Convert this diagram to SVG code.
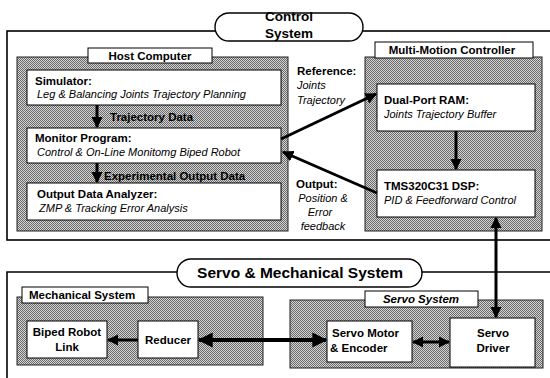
<svg xmlns="http://www.w3.org/2000/svg" width="550" height="378" viewBox="0 0 550 378">
  <defs>
    <!-- halftone fill used by the panels -->
    <pattern id="dots" width="2" height="2" patternUnits="userSpaceOnUse">
      <rect width="2" height="2" fill="#d4d4d4"/>
      <rect width="1" height="1" fill="#6a6a6a"/>
      <rect x="1" y="1" width="1" height="1" fill="#6a6a6a"/>
    </pattern>
    <marker id="ah" viewBox="0 0 10 10" refX="9" refY="5" markerWidth="3.8" markerHeight="3.8" orient="auto-start-reverse" markerUnits="strokeWidth">
      <path d="M0,0 L10,5 L0,10 z" fill="#000"/>
    </marker>
  </defs>
  <style>
    .frame { fill: none; stroke: #000; stroke-width: 1.6; }
    .pill { fill: #fff; stroke: #000; stroke-width: 1.4; }
    .panel { fill: url(#dots); stroke: #222; stroke-width: 1; }
    .box { fill: #fff; stroke: #000; stroke-width: 1; }
    .tab { fill: #fff; stroke: #000; stroke-width: 1; }
    text { font-family: "Liberation Sans", Arial, sans-serif; fill: #000; }
    .b { font-weight: bold; font-size: 11.5px; }
    .i { font-style: italic; font-size: 11px; }
    .bi { font-weight: bold; font-style: italic; font-size: 11.5px; }
    .title { font-weight: bold; font-size: 13.5px; }
    .big { font-weight: bold; font-size: 15.5px; }
    .c { text-anchor: middle; }
    .wire { fill: none; stroke: #000; stroke-width: 3; }
    .wire2 { fill: none; stroke: #000; stroke-width: 4; }
  </style>

  <!-- outer frames -->
  <g id="control-system">
    <rect class="frame" x="7" y="31" width="560" height="209"/>
    <rect class="pill" x="215" y="13" width="148" height="28" rx="14"/>
    <text class="title c" x="289" y="21">Control</text>
    <text class="title c" x="289" y="38">System</text>
  </g>
  <g id="servo-mechanical-system">
    <path class="frame" d="M7,380 V272 H560"/>
    <rect class="pill" x="177" y="259" width="245" height="28" rx="14"/>
    <text class="big c" x="300" y="278">Servo &amp; Mechanical System</text>
  </g>

  <!-- Host Computer -->
  <g id="host-computer">
    <rect class="panel" x="17" y="57" width="271" height="174"/>
    <rect class="tab" x="88" y="48" width="124" height="15"/>
    <text class="b c" x="150" y="60">Host Computer</text>
  </g>
  <g id="simulator">
    <rect class="box" x="27" y="70" width="254" height="35"/>
    <text class="b" x="35" y="85">Simulator:</text>
    <text class="i" x="37" y="98">Leg &amp; Balancing Joints Trajectory Planning</text>
  </g>
  <g id="monitor-program">
    <rect class="box" x="27" y="128" width="254" height="35"/>
    <text class="b" x="35" y="142">Monitor Program:</text>
    <text class="i" x="37" y="156">Control &amp; On-Line Monitomg Biped Robot</text>
  </g>
  <g id="output-data-analyzer">
    <rect class="box" x="27" y="183" width="254" height="37"/>
    <text class="b" x="37" y="198">Output Data Analyzer:</text>
    <text class="i" x="39" y="212">ZMP &amp; Tracking Error Analysis</text>
  </g>

  <!-- Multi-Motion Controller -->
  <g id="multi-motion-controller">
    <rect class="panel" x="365" y="57" width="177" height="174"/>
    <rect class="tab" x="375" y="42" width="158" height="16"/>
    <text class="b c" x="452" y="54">Multi-Motion Controller</text>
  </g>
  <g id="dual-port-ram">
    <rect class="box" x="377" y="84" width="158" height="47"/>
    <text class="b" x="384" y="104">Dual-Port RAM:</text>
    <text class="i" x="384" y="118">Joints Trajectory Buffer</text>
  </g>
  <g id="dsp">
    <rect class="box" x="377" y="170" width="158" height="47"/>
    <text class="b" x="384" y="190">TMS320C31 DSP:</text>
    <text class="i" x="384" y="204">PID &amp; Feedforward Control</text>
  </g>

  <!-- Mechanical System -->
  <g id="mechanical-system">
    <rect class="panel" x="17" y="297" width="246" height="68"/>
    <rect class="tab" x="22" y="287" width="126" height="16"/>
    <text class="b" x="29" y="299">Mechanical System</text>
  </g>
  <g id="biped-robot-link">
    <rect class="box" x="27" y="321" width="80" height="37"/>
    <text class="b c" x="67" y="336">Biped Robot</text>
    <text class="b c" x="67" y="351">Link</text>
  </g>
  <g id="reducer">
    <rect class="box" x="138" y="321" width="60" height="37"/>
    <text class="b c" x="168" y="344">Reducer</text>
  </g>

  <!-- Servo System -->
  <g id="servo-system">
    <rect class="panel" x="290" y="300" width="253" height="68"/>
    <rect class="tab" x="365" y="291" width="113" height="16"/>
    <text class="bi c" x="421" y="303">Servo System</text>
  </g>
  <g id="servo-motor">
    <rect class="box" x="327" y="321" width="85" height="41"/>
    <text class="b" x="332" y="337">Servo Motor</text>
    <text class="b" x="330" y="352">&amp; Encoder</text>
  </g>
  <g id="servo-driver">
    <rect class="box" x="450" y="318" width="85" height="49"/>
    <text class="b c" x="493" y="337">Servo</text>
    <text class="b c" x="493" y="352">Driver</text>
  </g>

  <!-- connectors -->
  <g id="connectors">
    <line class="wire" x1="97" y1="105" x2="97" y2="127" marker-end="url(#ah)"/>
    <line class="wire" x1="97" y1="163" x2="97" y2="182" marker-end="url(#ah)"/>
    <line class="wire" x1="281" y1="139" x2="376" y2="94" marker-end="url(#ah)"/>
    <line class="wire" x1="377" y1="193" x2="283" y2="152" marker-end="url(#ah)"/>
    <line class="wire" x1="456" y1="131" x2="456" y2="169" marker-end="url(#ah)"/>
    <line class="wire" x1="496" y1="218" x2="496" y2="317" marker-start="url(#ah)" marker-end="url(#ah)"/>
    <line class="wire2" x1="199" y1="340" x2="326" y2="340" marker-start="url(#ah)" marker-end="url(#ah)"/>
    <line class="wire" x1="138" y1="340" x2="108" y2="340" marker-end="url(#ah)"/>
    <line class="wire" x1="413" y1="342" x2="449" y2="342" marker-start="url(#ah)" marker-end="url(#ah)"/>
  </g>

  <!-- connector labels -->
  <g id="labels">
    <text class="b" x="110" y="121">Trajectory Data</text>
    <text class="b" x="104" y="180">Experimental Output Data</text>
    <text class="b" x="297" y="75">Reference:</text>
    <text class="i" x="297" y="89">Joints</text>
    <text class="i" x="297" y="104">Trajectory</text>
    <text class="b" x="296" y="188">Output:</text>
    <text class="i c" x="323" y="202">Position &amp;</text>
    <text class="i c" x="320" y="216">Error</text>
    <text class="i c" x="323" y="230">feedback</text>
  </g>
</svg>
